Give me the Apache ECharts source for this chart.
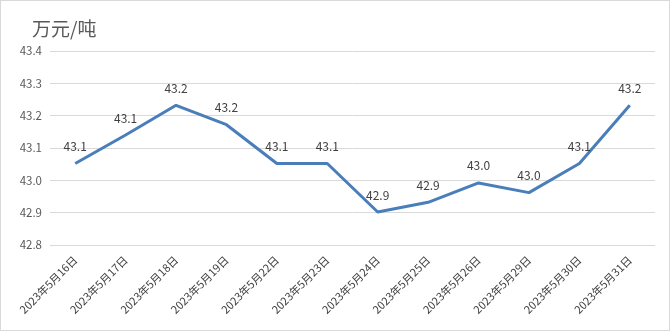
<!DOCTYPE html>
<html><head><meta charset="utf-8">
<script src="https://cdn.jsdelivr.net/npm/echarts@6/dist/echarts.min.js"></script>
<style>html,body{margin:0;padding:0;background:#fff}
#c{position:absolute;left:0;top:0;width:668px;height:329px;border:1px solid #d9d9d9;}
</style></head><body><div id="c"></div>
<script>
const categories = ['2023年5月16日','2023年5月17日','2023年5月18日','2023年5月19日','2023年5月22日','2023年5月23日','2023年5月24日','2023年5月25日','2023年5月26日','2023年5月29日','2023年5月30日','2023年5月31日'];
const values = [43.052, 43.14, 43.232, 43.172, 43.052, 43.052, 42.902, 42.932, 42.992, 42.962, 43.052, 43.232];
const yTicks = [42.8, 42.9, 43.0, 43.1, 43.2, 43.3, 43.4];
const font = '"Microsoft YaHei","Noto Sans CJK SC",sans-serif';
const chart = echarts.init(document.getElementById('c'));
chart.setOption({
  animation:false,
  title:{text:'万元/吨',left:26,top:13,textStyle:{fontSize:19,fontWeight:'normal',color:'#595959',fontFamily:font}},
  grid:{left:49,right:14,top:50,bottom:85,containLabel:false},
  xAxis:{type:'category',data:categories,boundaryGap:true,
    axisLine:{show:false},axisTick:{show:false},
    axisLabel:{rotate:45,interval:0,fontSize:11,color:'#404040',fontFamily:font,margin:13}},
  yAxis:{type:'value',min:yTicks[0],max:yTicks[yTicks.length-1],interval:0.1,
    axisLine:{show:false},axisTick:{show:false},
    splitLine:{lineStyle:{color:'#d9d9d9',width:1}},
    axisLabel:{fontSize:11.5,color:'#595959',fontFamily:font,margin:8,formatter:v=>v.toFixed(1)}},
  series:[{type:'line',data:values,symbol:'circle',symbolSize:0,showSymbol:true,
    lineStyle:{color:'#4a7ebb',width:3},itemStyle:{color:'#4a7ebb'},
    label:{show:true,position:'top',distance:11,fontSize:12,color:'#404040',fontFamily:font,
      formatter:p=>p.value.toFixed(1)}}]
});
</script></body></html>
